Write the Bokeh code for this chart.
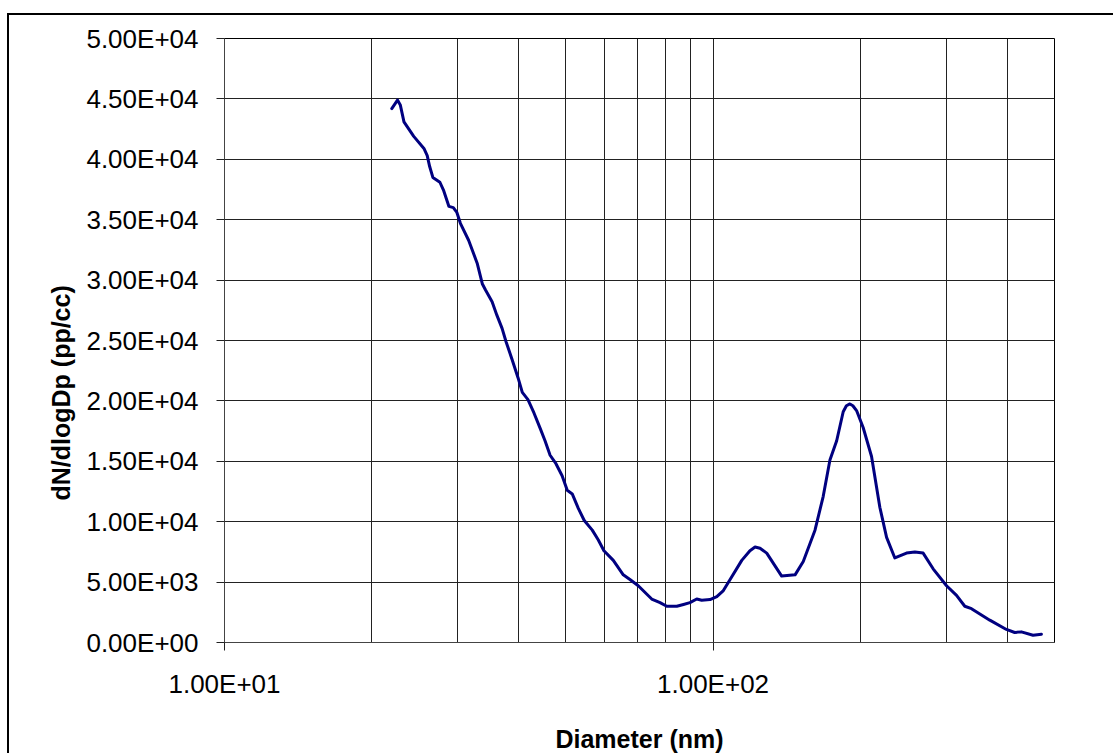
from bokeh.plotting import figure
from bokeh.models import FixedTicker, Range1d, Title
from bokeh.embed import file_html
from bokeh.resources import INLINE

# Particle number size distribution
diameter_nm = [
    22.0, 22.6, 22.9, 23.3, 24.4, 25.6, 26.0, 26.3, 26.7, 27.6,
    28.1, 28.8, 29.4, 29.9, 30.4, 31.6, 32.9, 33.7, 34.2, 35.3,
    36.1, 37.0, 37.7, 38.8, 39.9, 40.7, 41.8, 43.0, 44.3, 45.3,
    46.4, 47.7, 49.1, 50.3, 51.5, 53.0, 54.5, 56.6, 58.2, 59.8,
    62.5, 65.5, 67.7, 70.3, 74.9, 77.9, 80.4, 84.3, 87.0, 89.7,
    92.6, 94.8, 98.6, 101.8, 105.0, 108.3, 114.5, 119.0, 121.9, 124.8,
    128.8, 138.2, 147.2, 153.0, 161.7, 168.1, 173.5, 179.1, 184.7, 187.5,
    190.6, 193.3, 196.7, 202.9, 211.1, 219.5, 226.6, 235.6, 248.9, 258.9,
    269.2, 282.2, 300.6, 315.1, 327.6, 338.1, 368.6, 398.6, 414.5, 427.8,
    451.9, 470.1,
]
dn_dlogdp = [
    44200, 44900, 44500, 43100, 41900, 40900, 40300, 39400, 38500, 38100,
    37400, 36100, 36000, 35600, 34700, 33300, 31400, 29700, 29200, 28200,
    27100, 26000, 24900, 23400, 21900, 20700, 20100, 19000, 17700, 16700,
    15500, 14800, 13800, 12600, 12300, 11100, 10100, 9300, 8500, 7600,
    6800, 5600, 5200, 4700, 3600, 3300, 3000, 3000, 3150, 3300,
    3600, 3500, 3550, 3800, 4300, 5200, 6800, 7600, 7900, 7800,
    7400, 5500, 5600, 6700, 9300, 12100, 15100, 16700, 19100, 19600,
    19750, 19600, 19200, 17800, 15400, 11200, 8700, 7000, 7400, 7500,
    7400, 6100, 4700, 3900, 3000, 2800, 1850, 1080, 830, 880,
    600, 690,
]

# Axis ticks and labels
x_ticks = [10, 100]
x_tick_labels = ["1.00E+01", "1.00E+02"]
x_grid_values = [20, 30, 40, 50, 60, 70, 80, 90, 100, 200, 300, 400]
y_ticks = [0, 5000, 10000, 15000, 20000, 25000, 30000, 35000, 40000, 45000, 50000]
y_tick_labels = ["0.00E+00", "5.00E+03", "1.00E+04", "1.50E+04", "2.00E+04",
                 "2.50E+04", "3.00E+04", "3.50E+04", "4.00E+04", "4.50E+04", "5.00E+04"]
x_title = "Diameter (nm)"
y_title = "dN/dlogDp (pp/cc)"

FONT = "Liberation Sans"

p = figure(
    width=1106, height=740,
    x_axis_type="log",
    x_range=Range1d(10, 500), y_range=Range1d(0, 50000),
    output_backend="svg", toolbar_location=None,
    min_border_left=215, min_border_right=61,
    min_border_top=23, min_border_bottom=113,
)
p.styles = {
    "margin-left": "7px",
    "margin-top": "13px",
    "border-left": "2px solid black",
    "border-top": "2px solid black",
}

p.background_fill_color = "white"
p.border_fill_color = "white"
p.outline_line_color = "black"
p.outline_line_width = 1

p.line(diameter_nm, dn_dlogdp, line_color="#000080", line_width=3,
       line_join="round", line_cap="round")

# x axis
p.xaxis.ticker = FixedTicker(ticks=x_ticks, minor_ticks=[])
p.xaxis.major_label_overrides = dict(zip(x_ticks, x_tick_labels))
p.xaxis.axis_label = x_title

# y axis (its title is a side title, starting below the middle)
p.yaxis.ticker = FixedTicker(ticks=y_ticks, minor_ticks=[])
p.yaxis.major_label_overrides = dict(zip(y_ticks, y_tick_labels))

for ax in (p.xaxis[0], p.yaxis[0]):
    ax.axis_line_color = "#444444"
    ax.axis_line_width = 1
    ax.major_tick_line_color = "#222222"
    ax.major_tick_out = 8
    ax.major_tick_in = 0
    ax.minor_tick_line_color = None
    ax.major_label_text_font = FONT
    ax.major_label_text_font_size = "26px"
    ax.major_label_text_color = "black"
    ax.axis_label_text_font = FONT
    ax.axis_label_text_font_size = "25px"
    ax.axis_label_text_font_style = "bold"
    ax.axis_label_text_color = "black"

p.xaxis.major_label_standoff = 18
p.xaxis.axis_label_standoff = 23
p.yaxis.major_label_standoff = 18

p.add_layout(Title(
    text=y_title, align="left", offset=142, standoff=18,
    text_font=FONT, text_font_size="25px", text_font_style="bold",
    text_color="black",
), "left")

# grid
p.xgrid.ticker = FixedTicker(ticks=x_grid_values, minor_ticks=[])
p.ygrid.ticker = FixedTicker(ticks=y_ticks, minor_ticks=[])
for g in (p.xgrid[0], p.ygrid[0]):
    g.grid_line_color = "#222222"
    g.grid_line_width = 1

open("out.html", "w").write(file_html(p, INLINE))
